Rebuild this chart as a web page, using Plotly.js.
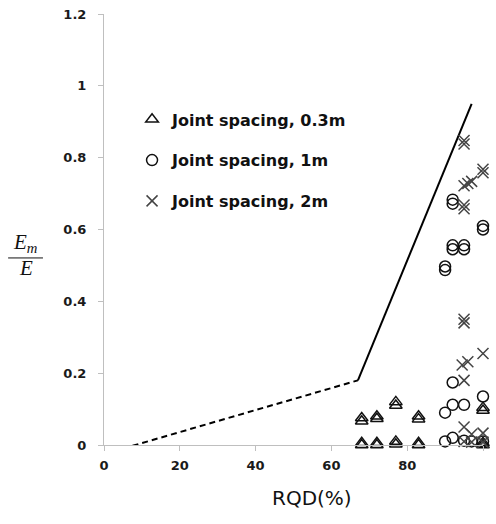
<!DOCTYPE html>
<html>
<head>
<meta charset="utf-8">
<script src="https://cdn.plot.ly/plotly-3.0.1.min.js"></script>
<style>html,body{margin:0;padding:0;background:#fff;}#chart{width:496px;height:524px;}</style>
</head>
<body>
<div id="chart"></div>
<script>
// Joint spacing 0.3 m (triangles)
const triRQD = [68, 68, 68, 68, 72, 72, 72, 72, 77, 77, 77, 77, 83, 83, 83, 83, 100, 100, 100, 100];
const triRatio = [0.075, 0.066, 0.006, 0.0, 0.08, 0.073, 0.006, 0.0, 0.12, 0.11, 0.01, 0.002, 0.08, 0.072, 0.006, 0.0, 0.104, 0.096, 0.006, 0.0];
// Joint spacing 1 m (circles)
const cirRQD = [92, 92, 100, 100, 92, 92, 95, 95, 90, 90, 92, 90, 92, 95, 100, 90, 92, 95, 97, 100];
const cirRatio = [0.683, 0.672, 0.61, 0.6, 0.556, 0.545, 0.556, 0.545, 0.497, 0.487, 0.174, 0.09, 0.112, 0.112, 0.135, 0.01, 0.02, 0.012, 0.01, 0.01];
// Joint spacing 2 m (crosses)
const crsRQD = [95, 95, 100, 100, 95, 96, 97, 95, 95, 95, 95, 94.5, 96, 100, 95, 95, 97, 100, 95, 97, 100];
const crsRatio = [0.848, 0.838, 0.768, 0.758, 0.722, 0.728, 0.734, 0.668, 0.658, 0.35, 0.34, 0.223, 0.232, 0.255, 0.18, 0.05, 0.03, 0.033, 0.01, 0.008, 0.008];
// Empirical relation lines
const dashRQD = [5, 67];
const dashRatio = [-0.01, 0.18];
const solidRQD = [67, 97];
const solidRatio = [0.18, 0.95];
const legendNames = ['Joint spacing, 0.3m', 'Joint spacing, 1m', 'Joint spacing, 2m'];
const xTicks = [0, 20, 40, 60, 80, 100];
const yTicks = [0, 0.2, 0.4, 0.6, 0.8, 1, 1.2];
const xTitle = 'RQD(%)';

const boldFamily = '"DejaVu Sans", "Noto Sans", sans-serif';
const tickFont = {family: boldFamily, size: 13, color: '#1a1a1a', weight: 'bold'};

const traces = [
  {x: dashRQD, y: dashRatio, mode: 'lines', line: {color: '#000', width: 2, dash: '6px,4px'}, showlegend: false, cliponaxis: false, hoverinfo: 'skip'},
  {x: solidRQD, y: solidRatio, mode: 'lines', line: {color: '#000', width: 2}, showlegend: false, cliponaxis: false, hoverinfo: 'skip'},
  {x: triRQD, y: triRatio, name: legendNames[0], legendgroup: 'a', mode: 'markers', cliponaxis: false,
   marker: {symbol: 'triangle-up-open', size: 11, color: '#111', line: {width: 1.5, color: '#111'}}},
  {x: cirRQD, y: cirRatio, name: legendNames[1], legendgroup: 'b', mode: 'markers', cliponaxis: false,
   marker: {symbol: 'circle-open', size: 11, color: '#111', line: {width: 1.5, color: '#111'}}},
  {x: crsRQD, y: crsRatio, name: legendNames[2], legendgroup: 'c', mode: 'markers', cliponaxis: false,
   marker: {symbol: 'x-thin-open', size: 11, color: '#444', line: {width: 1.5, color: '#444'}}}
];

const layout = {
  width: 496, height: 524,
  margin: {l: 104, r: 13, t: 14, b: 79, pad: 0},
  paper_bgcolor: '#fff', plot_bgcolor: '#fff',
  font: {family: '"DejaVu Sans", "Noto Sans", sans-serif', color: '#111'},
  xaxis: {
    range: [0, 100], tickvals: xTicks, ticks: 'outside', ticklen: 5, tickcolor: '#bfbfbf',
    showline: true, linecolor: '#bfbfbf', linewidth: 1, showgrid: false, zeroline: false,
    tickfont: tickFont, ticklabelstandoff: 3
  },
  yaxis: {
    range: [0, 1.2], tickvals: yTicks, ticks: 'outside', ticklen: 5, tickcolor: '#bfbfbf',
    showline: true, linecolor: '#bfbfbf', linewidth: 1, showgrid: false, zeroline: false,
    tickfont: tickFont, ticklabelstandoff: 9
  },
  showlegend: true,
  legend: {
    x: 0.074, y: 0.795, xanchor: 'left', yanchor: 'top', bgcolor: 'rgba(0,0,0,0)',
    traceorder: 'grouped', tracegroupgap: 17,
    font: {family: boldFamily, size: 16, color: '#111', weight: 'bold'}
  },
  annotations: [
    {xref: 'paper', yref: 'paper', x: 0.549, y: -0.155, showarrow: false,
     text: xTitle, font: {family: '"DejaVu Sans", sans-serif', size: 20, color: '#111'}},
    {xref: 'paper', yref: 'paper', x: -0.245, y: 0.469, showarrow: false,
     text: '<i>E<sub>m</sub></i>', font: {family: '"Liberation Serif", serif', size: 21, color: '#111'}},
    {xref: 'paper', yref: 'paper', x: -0.23, y: 0.41, showarrow: false,
     text: '<i>E</i>', font: {family: '"Liberation Serif", serif', size: 21, color: '#111'}}
  ],
  shapes: [
    {type: 'line', xref: 'paper', yref: 'paper', x0: -0.253, x1: -0.161, y0: 0.434, y1: 0.434,
     line: {color: '#111', width: 1}}
  ]
};

Plotly.newPlot('chart', traces, layout, {displayModeBar: false, staticPlot: true});
</script>
</body>
</html>
